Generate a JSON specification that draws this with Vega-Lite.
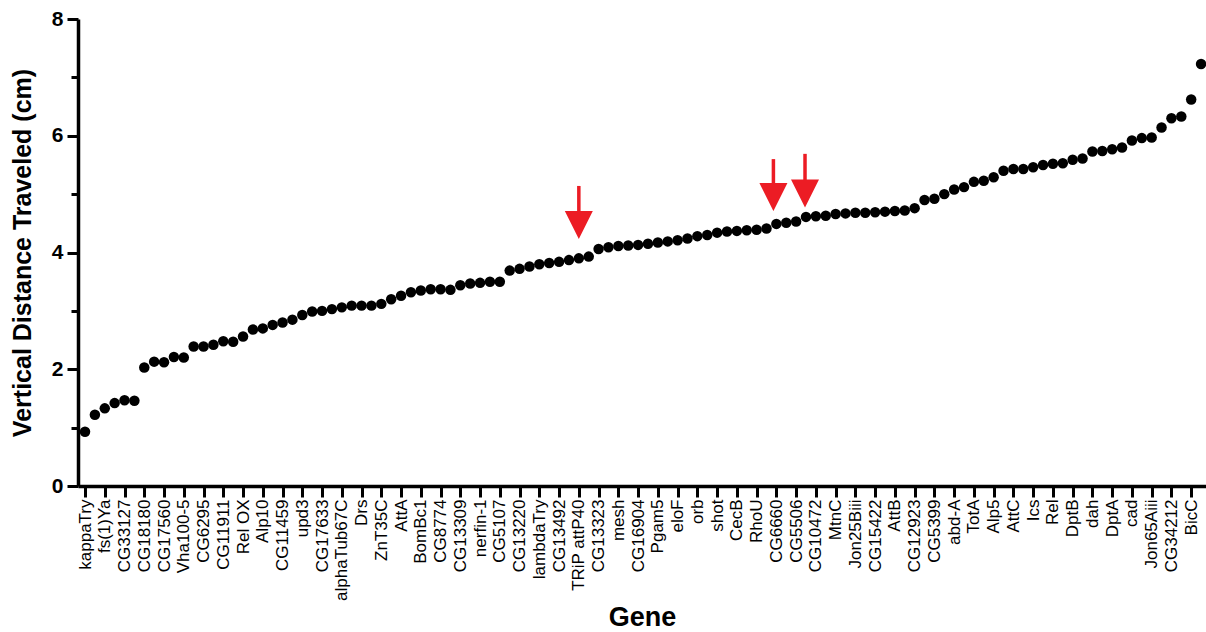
{
  "$schema": "https://vega.github.io/schema/vega-lite/v6.json",
  "width": 1128,
  "height": 467,
  "autosize": {"type": "none"},
  "padding": {"left": 78, "top": 19, "right": 0, "bottom": 146},
  "background": "white",
  "config": {
    "view": {"stroke": null},
    "font": "Liberation Sans",
    "axis": {"grid": false, "domainColor": "#000", "tickColor": "#000", "labelColor": "#000", "titleColor": "#000", "labelFont": "Liberation Sans", "titleFont": "Liberation Sans"}
  },
  "datasets": {
    "genes": [
      {"rank": 1, "gene": "kappaTry", "value": 0.93},
      {"rank": 2, "gene": null, "value": 1.22},
      {"rank": 3, "gene": "fs(1)Ya", "value": 1.33},
      {"rank": 4, "gene": null, "value": 1.42},
      {"rank": 5, "gene": "CG33127", "value": 1.47},
      {"rank": 6, "gene": null, "value": 1.46},
      {"rank": 7, "gene": "CG18180", "value": 2.03},
      {"rank": 8, "gene": null, "value": 2.13},
      {"rank": 9, "gene": "CG17560", "value": 2.12},
      {"rank": 10, "gene": null, "value": 2.21},
      {"rank": 11, "gene": "Vha100-5", "value": 2.20},
      {"rank": 12, "gene": null, "value": 2.39},
      {"rank": 13, "gene": "CG6295", "value": 2.39},
      {"rank": 14, "gene": null, "value": 2.42},
      {"rank": 15, "gene": "CG11911", "value": 2.48},
      {"rank": 16, "gene": null, "value": 2.47},
      {"rank": 17, "gene": "Rel OX", "value": 2.56},
      {"rank": 18, "gene": null, "value": 2.68},
      {"rank": 19, "gene": "Alp10", "value": 2.70},
      {"rank": 20, "gene": null, "value": 2.76},
      {"rank": 21, "gene": "CG11459", "value": 2.80},
      {"rank": 22, "gene": null, "value": 2.85},
      {"rank": 23, "gene": "upd3", "value": 2.93},
      {"rank": 24, "gene": null, "value": 2.99},
      {"rank": 25, "gene": "CG17633", "value": 3.00},
      {"rank": 26, "gene": null, "value": 3.03},
      {"rank": 27, "gene": "alphaTub67C", "value": 3.06},
      {"rank": 28, "gene": null, "value": 3.09},
      {"rank": 29, "gene": "Drs", "value": 3.09},
      {"rank": 30, "gene": null, "value": 3.09},
      {"rank": 31, "gene": "ZnT35C", "value": 3.12},
      {"rank": 32, "gene": null, "value": 3.20},
      {"rank": 33, "gene": "AttA", "value": 3.26},
      {"rank": 34, "gene": null, "value": 3.32},
      {"rank": 35, "gene": "BomBc1", "value": 3.35},
      {"rank": 36, "gene": null, "value": 3.37},
      {"rank": 37, "gene": "CG8774", "value": 3.37},
      {"rank": 38, "gene": null, "value": 3.36},
      {"rank": 39, "gene": "CG13309", "value": 3.44},
      {"rank": 40, "gene": null, "value": 3.47},
      {"rank": 41, "gene": "nerfin-1", "value": 3.48},
      {"rank": 42, "gene": null, "value": 3.50},
      {"rank": 43, "gene": "CG5107", "value": 3.50},
      {"rank": 44, "gene": null, "value": 3.69},
      {"rank": 45, "gene": "CG13220", "value": 3.72},
      {"rank": 46, "gene": null, "value": 3.76},
      {"rank": 47, "gene": "lambdaTry", "value": 3.80},
      {"rank": 48, "gene": null, "value": 3.82},
      {"rank": 49, "gene": "CG13492", "value": 3.84},
      {"rank": 50, "gene": null, "value": 3.87},
      {"rank": 51, "gene": "TRiP attP40", "value": 3.90},
      {"rank": 52, "gene": null, "value": 3.93},
      {"rank": 53, "gene": "CG13323", "value": 4.06},
      {"rank": 54, "gene": null, "value": 4.09},
      {"rank": 55, "gene": "mesh", "value": 4.11},
      {"rank": 56, "gene": null, "value": 4.12},
      {"rank": 57, "gene": "CG16904", "value": 4.13},
      {"rank": 58, "gene": null, "value": 4.15},
      {"rank": 59, "gene": "Pgam5", "value": 4.17},
      {"rank": 60, "gene": null, "value": 4.19},
      {"rank": 61, "gene": "eloF", "value": 4.21},
      {"rank": 62, "gene": null, "value": 4.24},
      {"rank": 63, "gene": "orb", "value": 4.28},
      {"rank": 64, "gene": null, "value": 4.30},
      {"rank": 65, "gene": "shot", "value": 4.34},
      {"rank": 66, "gene": null, "value": 4.36},
      {"rank": 67, "gene": "CecB", "value": 4.37},
      {"rank": 68, "gene": null, "value": 4.38},
      {"rank": 69, "gene": "RhoU", "value": 4.39},
      {"rank": 70, "gene": null, "value": 4.41},
      {"rank": 71, "gene": "CG6660", "value": 4.49},
      {"rank": 72, "gene": null, "value": 4.51},
      {"rank": 73, "gene": "CG5506", "value": 4.53},
      {"rank": 74, "gene": null, "value": 4.61},
      {"rank": 75, "gene": "CG10472", "value": 4.62},
      {"rank": 76, "gene": null, "value": 4.63},
      {"rank": 77, "gene": "MtnC", "value": 4.66},
      {"rank": 78, "gene": null, "value": 4.67},
      {"rank": 79, "gene": "Jon25Biii", "value": 4.68},
      {"rank": 80, "gene": null, "value": 4.68},
      {"rank": 81, "gene": "CG15422", "value": 4.69},
      {"rank": 82, "gene": null, "value": 4.70},
      {"rank": 83, "gene": "AttB", "value": 4.71},
      {"rank": 84, "gene": null, "value": 4.72},
      {"rank": 85, "gene": "CG12923", "value": 4.76},
      {"rank": 86, "gene": null, "value": 4.90},
      {"rank": 87, "gene": "CG5399", "value": 4.92},
      {"rank": 88, "gene": null, "value": 5.00},
      {"rank": 89, "gene": "abd-A", "value": 5.08},
      {"rank": 90, "gene": null, "value": 5.12},
      {"rank": 91, "gene": "TotA", "value": 5.21},
      {"rank": 92, "gene": null, "value": 5.23},
      {"rank": 93, "gene": "Alp5", "value": 5.29},
      {"rank": 94, "gene": null, "value": 5.40},
      {"rank": 95, "gene": "AttC", "value": 5.43},
      {"rank": 96, "gene": null, "value": 5.43},
      {"rank": 97, "gene": "Ics", "value": 5.46},
      {"rank": 98, "gene": null, "value": 5.50},
      {"rank": 99, "gene": "Rel", "value": 5.52},
      {"rank": 100, "gene": null, "value": 5.53},
      {"rank": 101, "gene": "DptB", "value": 5.59},
      {"rank": 102, "gene": null, "value": 5.61},
      {"rank": 103, "gene": "dah", "value": 5.73},
      {"rank": 104, "gene": null, "value": 5.74},
      {"rank": 105, "gene": "DptA", "value": 5.77},
      {"rank": 106, "gene": null, "value": 5.80},
      {"rank": 107, "gene": "cad", "value": 5.92},
      {"rank": 108, "gene": null, "value": 5.96},
      {"rank": 109, "gene": "Jon65Aiii", "value": 5.97},
      {"rank": 110, "gene": null, "value": 6.14},
      {"rank": 111, "gene": "CG34212", "value": 6.30},
      {"rank": 112, "gene": null, "value": 6.33},
      {"rank": 113, "gene": "BicC", "value": 6.62},
      {"rank": 114, "gene": null, "value": 7.23}
    ],
    "arrows": [
      {"rank": 51, "top": 5.14, "head": 4.47},
      {"rank": 70.7, "top": 5.60, "head": 4.95},
      {"rank": 73.9, "top": 5.69, "head": 5.01}
    ]
  },
  "resolve": {"scale": {"x": "independent"}, "axis": {"x": "independent"}},
  "layer": [
    {
      "data": {"name": "genes"},
      "mark": {"type": "circle", "size": 110, "opacity": 1, "color": "#000000"},
      "encoding": {
        "x": {"field": "rank", "type": "quantitative", "scale": {"domain": [0.29, 114.5], "nice": false, "zero": false}, "axis": null},
        "y": {
          "field": "value", "type": "quantitative",
          "scale": {"domain": [0, 8], "nice": false},
          "axis": {
            "title": "Vertical Distance Traveled (cm)",
            "values": [0, 1, 2, 3, 4, 5, 6, 7, 8],
            "format": "d",
            "labelExpr": "datum.value % 2 === 0 ? datum.label : ''",
            "tickSize": {"condition": {"test": "datum.value % 2 === 1", "value": 7}, "value": 11},
            "tickWidth": 3,
            "domainWidth": 3.5,
            "labelFontSize": 21,
            "labelFontWeight": "bold",
            "labelPadding": 4,
            "titleFontSize": 25,
            "titleFontWeight": "bold",
            "titlePadding": 16
          }
        }
      }
    },
    {
      "data": {"name": "genes"},
      "transform": [{"filter": "datum.gene != null"}],
      "mark": {"type": "point", "opacity": 0},
      "encoding": {
        "x": {
          "field": "gene", "type": "nominal", "sort": null,
          "scale": {"type": "point", "padding": 0.5525, "align": 0.3213},
          "axis": {
            "title": "Gene",
            "labelAngle": -90,
            "labelAlign": "right",
            "labelBaseline": "middle",
            "labelOverlap": false,
            "labelBound": false,
            "labelFlush": false,
            "labelFontSize": 17,
            "labelPadding": 2,
            "tickSize": 11,
            "tickWidth": 3,
            "domainWidth": 3.5,
            "titleFontSize": 27,
            "titleFontWeight": "bold",
            "titlePadding": 4
          }
        },
        "y": {"field": "value", "type": "quantitative"}
      }
    },
    {
      "data": {"name": "arrows"},
      "mark": {"type": "rule", "color": "#ec1c24", "strokeWidth": 3.5},
      "encoding": {
        "x": {"field": "rank", "type": "quantitative", "scale": {"domain": [0.29, 114.5], "nice": false, "zero": false}, "axis": null},
        "y": {"field": "top", "type": "quantitative"},
        "y2": {"field": "head"}
      }
    },
    {
      "data": {"name": "arrows"},
      "mark": {"type": "point", "shape": "M-1,-1L1,-1L0,1Z", "filled": true, "size": 784, "color": "#ec1c24", "opacity": 1, "strokeWidth": 0},
      "encoding": {
        "x": {"field": "rank", "type": "quantitative", "scale": {"domain": [0.29, 114.5], "nice": false, "zero": false}, "axis": null},
        "y": {"field": "head", "type": "quantitative"}
      }
    }
  ]
}
